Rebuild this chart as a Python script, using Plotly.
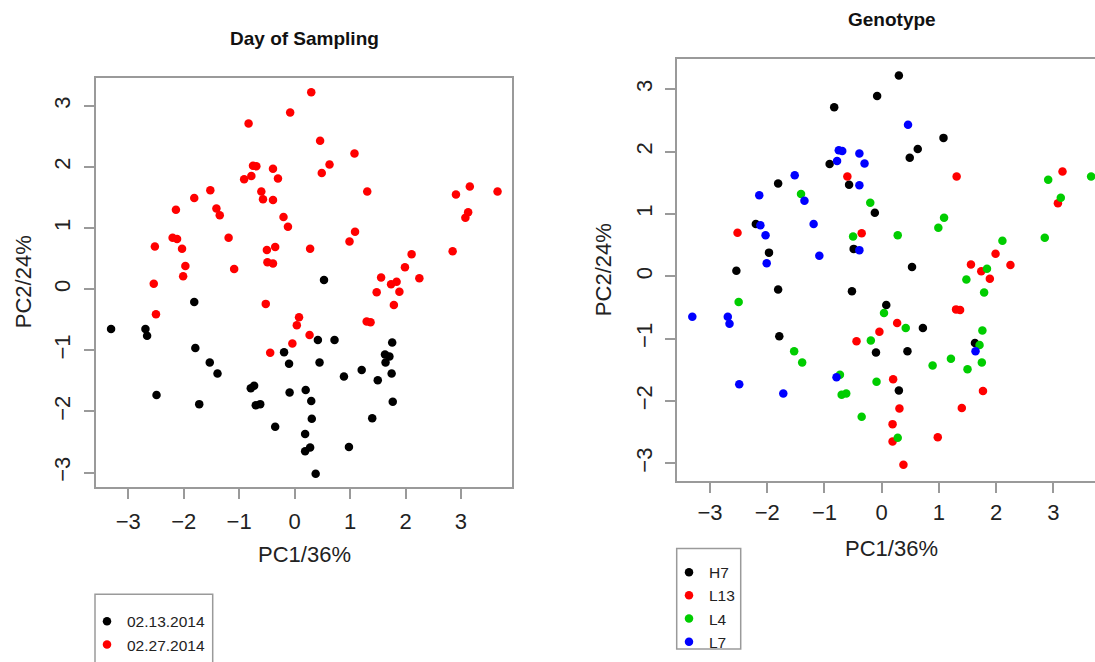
import plotly.graph_objects as go

# ---------------- data ----------------
pc1 = [
    0.30, -0.08, -0.83, 0.46, 1.08, -0.75, -0.69, -0.39, 0.63, 0.49,
    -0.78, -0.91, -0.30, -1.52, -1.81, -0.60, -0.57, -0.39, 1.31, 2.91,
    3.16, 3.66, -2.14, -1.41, -1.35, 3.13, 3.08, -0.20, -0.12, 1.09,
    0.99, -2.20, -2.12, -1.19, -2.52, -2.03, -0.50, -0.35, 0.28, -1.97,
    -1.09, -0.49, -0.39, 2.11, 2.85, 1.99, -2.01, -2.54, 1.56, 2.25,
    1.74, 1.84, 1.48, 1.89, -2.50, 1.79, -0.52, 0.08, 0.04, 1.30,
    1.37, 0.27, -0.04, -0.44,
    0.53, -1.81, -3.31, -2.69, -2.66, -1.79, -1.53, -1.39, -2.49, -1.72,
    -0.79, -0.73, -0.70, -0.62, -0.35, -0.19, -0.10, -0.09, 0.42, 0.72,
    0.45, 0.20, 0.30, 0.31, 0.19, 0.28, 0.19, 0.38, 0.98, 0.89,
    1.21, 1.50, 1.76, 1.63, 1.71, 1.64, 1.75, 1.77, 1.40,
]
pc2 = [
    3.22, 2.89, 2.71, 2.43, 2.22, 2.02, 2.01, 1.97, 2.04, 1.90,
    1.85, 1.80, 1.81, 1.62, 1.49, 1.60, 1.47, 1.46, 1.60, 1.55,
    1.68, 1.60, 1.30, 1.32, 1.21, 1.26, 1.17, 1.18, 1.02, 0.94,
    0.78, 0.84, 0.82, 0.84, 0.70, 0.66, 0.64, 0.69, 0.66, 0.38,
    0.33, 0.44, 0.42, 0.57, 0.62, 0.36, 0.21, 0.09, 0.19, 0.18,
    0.08, 0.12, -0.05, -0.04, -0.41, -0.26, -0.24, -0.46, -0.59, -0.53,
    -0.54, -0.75, -0.89, -1.04,
    0.15, -0.21, -0.65, -0.65, -0.76, -0.96, -1.20, -1.38, -1.73, -1.88,
    -1.62, -1.58, -1.90, -1.88, -2.25, -1.03, -1.22, -1.69, -0.83, -0.83,
    -1.20, -1.65, -1.83, -2.12, -2.37, -2.59, -2.65, -3.02, -2.58, -1.43,
    -1.32, -1.49, -0.87, -1.07, -1.10, -1.20, -1.38, -1.84, -2.11,
]
day = ["02.27.2014"] * 64 + ["02.13.2014"] * 39
genotype = [
    "H7", "H7", "H7", "L7", "H7", "L7", "L7", "L7", "H7", "H7",
    "L7", "H7", "L7", "L7", "H7", "L13", "H7", "L7", "L13", "L4",
    "L13", "L4", "L7", "L4", "L7", "L4", "L13", "L4", "H7", "L4",
    "L4", "H7", "L7", "L7", "L13", "L7", "L4", "L13", "L4", "H7",
    "L7", "H7", "L7", "L4", "L4", "L13", "L7", "H7", "L13", "L13",
    "L13", "L4", "L4", "L13", "L4", "L4", "H7", "H7", "L4", "L13",
    "L13", "L13", "L13", "L13",
    "H7", "H7", "L7", "L7", "L7", "H7", "L4", "L4", "L7", "L7",
    "L7", "L4", "L4", "L4", "L4", "L4", "H7", "L4", "L4", "H7",
    "H7", "L13", "H7", "L13", "L13", "L4", "L13", "L13", "L13", "L4",
    "L4", "L4", "L4", "H7", "L4", "L7", "L4", "L13", "L13",
]

day_levels = ["02.13.2014", "02.27.2014"]
day_colors = ["#000000", "#FF0000"]
geno_levels = ["H7", "L13", "L4", "L7"]
geno_colors = ["#000000", "#FF0000", "#00CD00", "#0000FF"]

tick_vals = [-3, -2, -1, 0, 1, 2, 3]
tick_text = ["\u22123", "\u22122", "\u22121", "0", "1", "2", "3"]

titles = ["Day of Sampling", "Genotype"]
x_label = "PC1/36%"
y_label = "PC2/24%"

# ---------------- layout helpers ----------------
W, H = 1095, 662
FONT = "Liberation Sans, Arial, sans-serif"
LINE = "#9a9a9a"


def px(x):
    return x / W


def py(y):
    return 1 - y / H


fig = go.Figure()

for lev, col in zip(day_levels, day_colors):
    idx = [i for i, d in enumerate(day) if d == lev]
    fig.add_trace(go.Scatter(
        x=[pc1[i] for i in idx], y=[pc2[i] for i in idx],
        mode="markers", name=lev, legend="legend",
        marker=dict(color=col, size=8.5, line=dict(width=0)),
        xaxis="x", yaxis="y",
    ))

for lev, col in zip(geno_levels, geno_colors):
    idx = [i for i, g in enumerate(genotype) if g == lev]
    fig.add_trace(go.Scatter(
        x=[pc1[i] for i in idx], y=[pc2[i] for i in idx],
        mode="markers", name=lev, legend="legend2",
        marker=dict(color=col, size=8.5, line=dict(width=0)),
        xaxis="x2", yaxis="y2",
    ))

axis_common = dict(
    tickmode="array", tickvals=tick_vals, ticktext=tick_text,
    ticks="outside", ticklen=10, tickwidth=1.5, tickcolor=LINE,
    showline=True, linecolor=LINE, linewidth=1.5,
    showgrid=False, zeroline=False,
    tickfont=dict(family=FONT, size=22, color="#222222"),
)

fig.update_layout(
    width=W, height=H,
    margin=dict(l=0, r=0, t=0, b=0),
    paper_bgcolor="white", plot_bgcolor="white",
    xaxis=dict(axis_common, domain=[px(95.7), px(512.3)], range=[-3.587, 3.926],
               mirror=True, anchor="y", ticklabelstandoff=4),
    yaxis=dict(axis_common, domain=[py(495.5), py(79)], range=[-3.24, 3.46],
               mirror=True, anchor="x", tickangle=-90, ticklabelstandoff=5),
    xaxis2=dict(axis_common, domain=[px(676.7), 1.0], range=[-3.583, 3.728],
                mirror=True, anchor="y2", ticklabelstandoff=1),
    yaxis2=dict(axis_common, domain=[py(489), py(60.3)], range=[-3.28, 3.48],
                mirror=False, anchor="x2", tickangle=-90, ticklabelstandoff=4),
    legend=dict(x=px(87), y=py(615), xanchor="left", yanchor="top",
                bgcolor="rgba(0,0,0,0)", borderwidth=0,
                font=dict(family=FONT, size=15.5, color="#222222"),
                itemwidth=30, tracegroupgap=0),
    legend2=dict(x=px(669), y=py(565), xanchor="left", yanchor="top",
                 bgcolor="rgba(0,0,0,0)", borderwidth=0,
                 font=dict(family=FONT, size=15.5, color="#222222"),
                 itemwidth=30, tracegroupgap=0),
    showlegend=True,
)

# legend boxes (R style)
fig.add_shape(type="rect", xref="paper", yref="paper",
              x0=px(95), x1=px(212.7), y0=py(604.3), y1=py(680),
              line=dict(color=LINE, width=1.5))
fig.add_shape(type="rect", xref="paper", yref="paper",
              x0=px(676.7), x1=px(740.7), y0=py(557.7), y1=py(660),
              line=dict(color=LINE, width=1.5))

ann = []
# titles
ann.append(dict(text="<b>" + titles[0] + "</b>", x=px(304), y=py(39.5)))
ann.append(dict(text="<b>" + titles[1] + "</b>", x=px(892), y=py(20.2)))
for a in ann:
    a.update(font=dict(family=FONT, size=19, color="#111111"))
# axis labels
lab_font = dict(family=FONT, size=22, color="#222222")
ann.append(dict(text=x_label, x=px(304), y=py(564), font=lab_font))
ann.append(dict(text=x_label, x=px(891), y=py(558), font=lab_font))
ann.append(dict(text=y_label, x=px(23), y=py(287), font=lab_font, textangle=-90))
ann.append(dict(text=y_label, x=px(603), y=py(274.7), font=lab_font, textangle=-90))
for a in ann:
    a.update(xref="paper", yref="paper", xanchor="center", yanchor="middle",
             showarrow=False)
fig.update_layout(annotations=ann)

fig.write_html("out.html")
